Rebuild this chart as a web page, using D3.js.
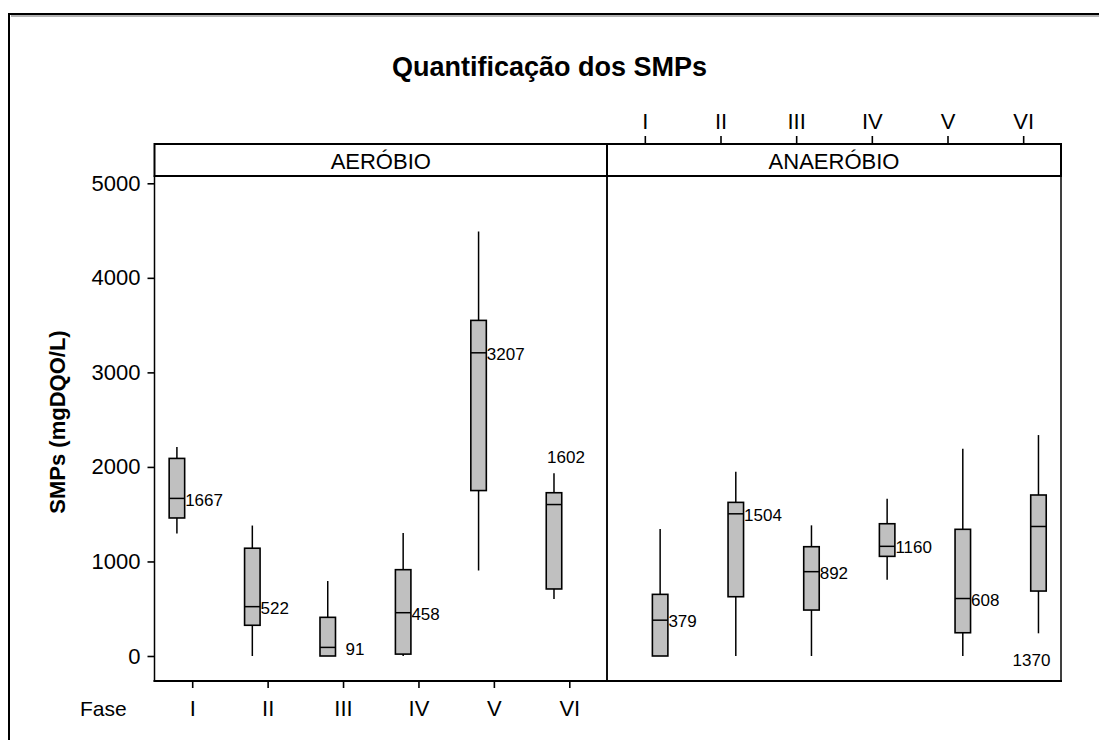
<!DOCTYPE html>
<html>
<head>
<meta charset="utf-8">
<script src="https://cdn.jsdelivr.net/npm/d3@7"></script>
<style>
  html, body { margin: 0; padding: 0; background: #fff; }
  svg { display: block; font-family: "Liberation Sans", Arial, sans-serif; }
</style>
</head>
<body>
<svg id="chart" width="1099" height="740"></svg>
<script>
// Phases and reactor groups
const phases = ["I", "II", "III", "IV", "V", "VI"];
const groups = ["AERÓBIO", "ANAERÓBIO"];
const yTicks = [0, 1000, 2000, 3000, 4000, 5000];

// Box statistics per phase (mgDQO/L) – aerobic reactor
const aerMin    = [1295, 0, 0, 0, 905, 603];
const aerQ1     = [1460, 325, 0, 20, 1750, 709];
const aerMedian = [1667, 522, 91, 458, 3207, 1602];
const aerQ3     = [2090, 1140, 409, 913, 3550, 1727];
const aerMax    = [2210, 1380, 793, 1300, 4490, 1932];

// Box statistics per phase (mgDQO/L) – anaerobic reactor
const anaMin    = [0, 0, 0, 807, 0, 240];
const anaQ1     = [0, 627, 486, 1054, 246, 687];
const anaMedian = [379, 1504, 892, 1160, 608, 1370];
const anaQ3     = [652, 1625, 1156, 1399, 1340, 1703];
const anaMax    = [1343, 1950, 1382, 1664, 2192, 2337];

const stats = {
  "AERÓBIO":   { min: aerMin, q1: aerQ1, med: aerMedian, q3: aerQ3, max: aerMax },
  "ANAERÓBIO": { min: anaMin, q1: anaQ1, med: anaMedian, q3: anaQ3, max: anaMax }
};

const svg = d3.select("#chart");

// Layout
const stripTop = 144, stripBottom = 176, plotBottom = 681;
const panelEdges = [[154.5, 607], [607, 1061]];
const boxW = 15.5;

const y = d3.scaleLinear().domain([0, 5000]).range([656, 183.3]);
// side-by-side offset of the two groups within each phase slot
const dodge = d3.scalePoint().domain(groups).range([-15.3, 15.3]);

// Outer frame with a soft shadow line
svg.append("line").attr("x1", 11).attr("x2", 1099).attr("y1", 16).attr("y2", 16)
  .attr("stroke", "#9a9a9a").attr("stroke-width", 1.5);
svg.append("line").attr("x1", 9).attr("x2", 1099).attr("y1", 14).attr("y2", 14)
  .attr("stroke", "#000").attr("stroke-width", 2);
svg.append("line").attr("x1", 9).attr("x2", 9).attr("y1", 13).attr("y2", 740)
  .attr("stroke", "#000").attr("stroke-width", 2);

// Title
svg.append("text").attr("x", 549.5).attr("y", 76)
  .attr("text-anchor", "middle").attr("font-size", 27).attr("font-weight", "bold")
  .text("Quantificação dos SMPs");

// Y axis title
svg.append("text").attr("transform", "translate(65,422) rotate(-90)")
  .attr("text-anchor", "middle").attr("font-size", 22).attr("font-weight", "bold")
  .text("SMPs (mgDQO/L)");

// Special placement for labels that would collide with their box
const labelSpot = { "AERÓBIO|VI": "above", "ANAERÓBIO|VI": "below" };

groups.forEach((g, k) => {
  const [left, right] = panelEdges[k];
  const x = d3.scalePoint().domain(phases).range([left, right]).padding(0.5);
  const s = stats[g];
  const panel = svg.append("g");

  // strip
  panel.append("rect").attr("x", left).attr("y", stripTop)
    .attr("width", right - left).attr("height", stripBottom - stripTop)
    .attr("fill", "#fff").attr("stroke", "#000").attr("stroke-width", 2);
  panel.append("text").attr("x", (left + right) / 2).attr("y", 169)
    .attr("text-anchor", "middle").attr("font-size", 22).text(g);

  // panel frame
  panel.append("rect").attr("x", left).attr("y", stripBottom)
    .attr("width", right - left).attr("height", plotBottom - stripBottom)
    .attr("fill", "none").attr("stroke", "#000").attr("stroke-width", 1.5);
  panel.append("line").attr("x1", left - 1).attr("x2", right + 1)
    .attr("y1", plotBottom).attr("y2", plotBottom)
    .attr("stroke", "#000").attr("stroke-width", 2.2);

  // boxes
  phases.forEach((p, i) => {
    const cx = x(p) + dodge(g);
    panel.append("line").attr("x1", cx).attr("x2", cx)
      .attr("y1", y(s.min[i])).attr("y2", y(s.max[i]))
      .attr("stroke", "#000").attr("stroke-width", 1.5);
    panel.append("rect").attr("x", cx - boxW / 2).attr("y", y(s.q3[i]))
      .attr("width", boxW).attr("height", y(s.q1[i]) - y(s.q3[i]))
      .attr("fill", "#c0c0c0").attr("stroke", "#000").attr("stroke-width", 1.6);
    panel.append("line").attr("x1", cx - boxW / 2).attr("x2", cx + boxW / 2)
      .attr("y1", y(s.med[i])).attr("y2", y(s.med[i]))
      .attr("stroke", "#000").attr("stroke-width", 1.5);

    const label = String(s.med[i]);
    const spot = labelSpot[g + "|" + p];
    const t = panel.append("text").attr("font-size", 17).text(label);
    if (spot === "above") {
      t.attr("x", cx + 12).attr("y", y(s.max[i]) - 10).attr("text-anchor", "middle");
    } else if (spot === "below") {
      t.attr("x", cx - 7).attr("y", y(0) + 10).attr("text-anchor", "middle");
    } else {
      const pad = Math.max(0, 3 - label.length) * 0.556 * 17;
      t.attr("x", cx + boxW / 2 + 0.5 + pad).attr("y", y(s.med[i]))
        .attr("dy", "0.42em").attr("text-anchor", "start");
    }
  });

  if (k === 0) {
    // left value axis
    svg.append("g").attr("transform", `translate(${left},0)`)
      .call(d3.axisLeft(y).tickValues(yTicks).tickSize(7).tickPadding(7).tickFormat(d3.format("d")))
      .call(a => a.select(".domain").remove())
      .call(a => a.selectAll("line").attr("stroke", "#000").attr("stroke-width", 1.6))
      .call(a => a.selectAll("text").attr("font-size", 22).attr("font-family", null).attr("fill", "#000"));
    // bottom phase axis
    svg.append("g").attr("transform", `translate(0,${plotBottom})`)
      .call(d3.axisBottom(x).tickSize(7))
      .call(a => a.select(".domain").remove())
      .call(a => a.selectAll("line").attr("stroke", "#000").attr("stroke-width", 1.6))
      .call(a => a.selectAll("text").attr("font-size", 22).attr("font-family", null)
        .attr("fill", "#000").attr("y", 35).attr("dy", 0));
  } else {
    // top phase axis
    svg.append("g").attr("transform", `translate(0,${stripTop})`)
      .call(d3.axisTop(x).tickSize(8))
      .call(a => a.select(".domain").remove())
      .call(a => a.selectAll("line").attr("stroke", "#000").attr("stroke-width", 1.6))
      .call(a => a.selectAll("text").attr("font-size", 22).attr("font-family", null)
        .attr("fill", "#000").attr("y", -15).attr("dy", 0));
  }
});

// Bottom axis caption
svg.append("text").attr("x", 80).attr("y", 716).attr("font-size", 21).text("Fase");
</script>
</body>
</html>
